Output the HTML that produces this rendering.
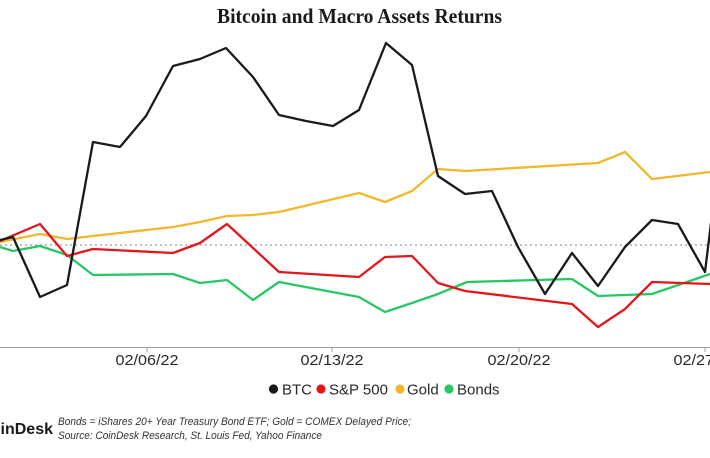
<!DOCTYPE html>
<html>
<head>
<meta charset="utf-8">
<style>
  html, body { margin:0; padding:0; background:#ffffff; }
  body { width:710px; height:458px; overflow:hidden; }
  svg { display:block; }
</style>
</head>
<body>
<svg width="710" height="458" viewBox="0 0 710 458" xmlns="http://www.w3.org/2000/svg">
  <rect x="0" y="0" width="710" height="458" fill="#ffffff"/>

  <!-- Title -->
  <text x="359.5" y="23" text-anchor="middle" font-family="Liberation Serif, serif" font-weight="bold" font-size="21" fill="#1a1a1a" textLength="285" lengthAdjust="spacingAndGlyphs">Bitcoin and Macro Assets Returns</text>

  <!-- Zero line -->
  <line x1="0" y1="245" x2="710" y2="245" stroke="#9a9a9a" stroke-width="1.2" stroke-dasharray="2,3"/>

  <!-- X axis -->
  <line x1="0" y1="347.5" x2="710" y2="347.5" stroke="#a0a0a0" stroke-width="1"/>
  <line x1="147" y1="347" x2="147" y2="352" stroke="#a0a0a0" stroke-width="1"/>
  <line x1="332" y1="347" x2="332" y2="352" stroke="#a0a0a0" stroke-width="1"/>
  <line x1="519" y1="347" x2="519" y2="352" stroke="#a0a0a0" stroke-width="1"/>
  <line x1="705" y1="347" x2="705" y2="352" stroke="#a0a0a0" stroke-width="1"/>

  <g font-family="Liberation Sans, sans-serif" font-size="15" fill="#2a2a2a" text-anchor="middle">
    <text x="147" y="365" textLength="63" lengthAdjust="spacingAndGlyphs">02/06/22</text>
    <text x="332" y="365" textLength="63" lengthAdjust="spacingAndGlyphs">02/13/22</text>
    <text x="519" y="365" textLength="63" lengthAdjust="spacingAndGlyphs">02/20/22</text>
    <text x="705" y="365" textLength="63" lengthAdjust="spacingAndGlyphs">02/27/22</text>
  </g>

  <!-- Series -->
  <g fill="none" stroke-width="2.3" stroke-linejoin="round" stroke-linecap="round">
    <!-- Bonds -->
    <polyline stroke="#27c863" points="0,247 13,251 40,246 67,255 93,275 173,274 200,283 227,280 253,300 279,282 359,297 385,312 412,303 438,294 467,282 572,279 598,296 652,294 710,274"/>
    <!-- Gold -->
    <polyline stroke="#f1b82c" points="0,242 40,234 67,239 93,236 173,227 200,222 227,216 253,215 279,212 359,193 385,202 412,191 438,169 465,171 598,163 625,152 652,179 710,172"/>
    <!-- S&P 500 -->
    <polyline stroke="#e3161c" points="0,241 40,224 67,256 93,249 173,253 200,243 227,224 279,272 359,277 385,257 412,256 438,283 465,291 572,304 598,327 625,309 652,282 710,284"/>
    <!-- BTC -->
    <polyline stroke="#1a1a1a" points="0,240 13,237 40,297 67,285 93,142 120,147 146,116 173,66 200,59 226,48 253,77 279,115 306,121 333,126 359,110 386,43 412,65 438,176 465,194 492,191 518,247 545,294 572,253 598,286 625,247 652,220 678,224 705,272 712,215"/>
  </g>

  <!-- Legend -->
  <g font-family="Liberation Sans, sans-serif" font-size="15" fill="#2a2a2a">
    <circle cx="273.5" cy="389" r="4.6" fill="#1a1a1a"/>
    <text x="282" y="394.5">BTC</text>
    <circle cx="321" cy="389" r="4.6" fill="#e3161c"/>
    <text x="329" y="394.5">S&amp;P 500</text>
    <circle cx="400" cy="389" r="4.6" fill="#f1b82c"/>
    <text x="407" y="394.5">Gold</text>
    <circle cx="449" cy="389" r="4.6" fill="#27c863"/>
    <text x="457" y="394.5">Bonds</text>
  </g>

  <!-- Footer -->
  <text x="53" y="434" text-anchor="end" font-family="Liberation Sans, sans-serif" font-weight="bold" font-size="16" fill="#1a1a1a">CoinDesk</text>
  <g font-family="Liberation Sans, sans-serif" font-style="italic" font-size="11" fill="#333333">
    <text x="58" y="425" textLength="353" lengthAdjust="spacingAndGlyphs">Bonds = iShares 20+ Year Treasury Bond ETF; Gold = COMEX Delayed Price;</text>
    <text x="58" y="439" textLength="264" lengthAdjust="spacingAndGlyphs">Source: CoinDesk Research, St. Louis Fed, Yahoo Finance</text>
  </g>
</svg>
</body>
</html>
